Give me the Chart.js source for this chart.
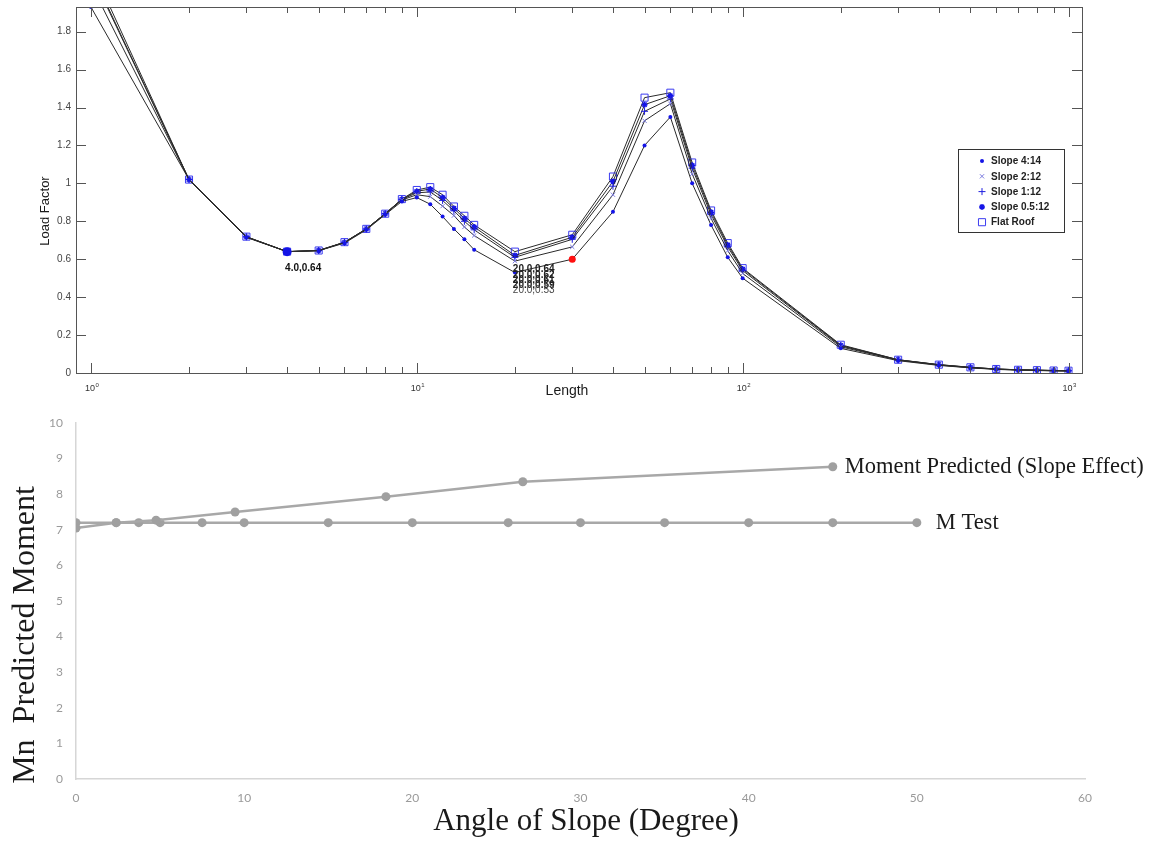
<!DOCTYPE html>
<html>
<head>
<meta charset="utf-8">
<script src="https://cdn.jsdelivr.net/npm/chart.js@4.4.1/dist/chart.umd.min.js"></script>
<style>
    html, body { margin: 0; padding: 0; background: #fff; }
    #top { position: absolute; left: 0; top: 0; width: 1151px; height: 402px; }
    #bottom { position: absolute; left: 0; top: 402px; width: 1151px; height: 439px; }
</style>
</head>
<body>
<div id="top"><canvas id="loadChart"></canvas></div>
<div id="bottom"><canvas id="momentChart"></canvas></div>
<script>
// top chart: load factor vs length (log x)
var lengths = [1, 2, 3, 4, 5, 6, 7, 8, 9, 10, 11, 12, 13, 14, 15, 20, 30, 40, 50, 60, 70, 80, 90, 100, 200, 300, 400, 500, 600, 700, 800, 900, 1000];
var slope4_14 = [1.93, 1.02, 0.715, 0.64, 0.645, 0.685, 0.755, 0.835, 0.905, 0.925, 0.89, 0.825, 0.76, 0.705, 0.65, 0.53, 0.60, 0.85, 1.20, 1.35, 1.00, 0.78, 0.61, 0.50, 0.13, 0.065, 0.04, 0.027, 0.019, 0.015, 0.013, 0.011, 0.010];
var slope2_12 = [2.05, 1.02, 0.717, 0.64, 0.645, 0.688, 0.758, 0.838, 0.912, 0.94, 0.93, 0.88, 0.83, 0.77, 0.725, 0.59, 0.665, 0.94, 1.33, 1.42, 1.05, 0.815, 0.645, 0.525, 0.138, 0.068, 0.042, 0.028, 0.020, 0.016, 0.014, 0.012, 0.011];
var slope1_12 = [2.11, 1.02, 0.718, 0.64, 0.646, 0.689, 0.759, 0.84, 0.915, 0.95, 0.955, 0.91, 0.855, 0.80, 0.755, 0.61, 0.705, 0.985, 1.38, 1.445, 1.08, 0.835, 0.665, 0.54, 0.143, 0.069, 0.043, 0.029, 0.021, 0.017, 0.015, 0.013, 0.012];
var slope05_12 = [2.12, 1.02, 0.718, 0.64, 0.646, 0.689, 0.76, 0.84, 0.916, 0.958, 0.97, 0.925, 0.868, 0.815, 0.77, 0.62, 0.716, 1.01, 1.415, 1.462, 1.095, 0.848, 0.675, 0.548, 0.146, 0.07, 0.044, 0.03, 0.021, 0.017, 0.015, 0.013, 0.012];
var flatRoof = [2.15, 1.02, 0.719, 0.64, 0.646, 0.69, 0.76, 0.84, 0.917, 0.965, 0.98, 0.94, 0.878, 0.829, 0.781, 0.64, 0.729, 1.036, 1.452, 1.478, 1.11, 0.857, 0.685, 0.553, 0.149, 0.07, 0.044, 0.03, 0.021, 0.017, 0.015, 0.013, 0.012];
var seriesNames = ['Slope 4:14', 'Slope 2:12', 'Slope 1:12', 'Slope 0.5:12', 'Flat Roof'];
var loadTicks = [0, 0.2, 0.4, 0.6, 0.8, 1, 1.2, 1.4, 1.6, 1.8];
var decades = [1, 10, 100, 1000];
var tipLength = 4;      // datatip on the first minimum
var stackTipLength = 20; // stacked datatips
var redTipLength = 30;

// bottom chart: moment vs slope angle
var predAngle = [0, 2.39, 4.76, 9.46, 18.43, 26.57, 45];
var predMoment = [7.05, 7.2, 7.27, 7.5, 7.93, 8.35, 8.77];
var testAngle = [0, 2.39, 3.73, 5, 7.5, 10, 15, 20, 25.7, 30, 35, 40, 45, 50];
var testMoment = [7.2, 7.2, 7.2, 7.2, 7.2, 7.2, 7.2, 7.2, 7.2, 7.2, 7.2, 7.2, 7.2, 7.2];
var angleTicks = [0, 10, 20, 30, 40, 50, 60];
var momentTicks = [0, 1, 2, 3, 4, 5, 6, 7, 8, 9, 10];
var endLabels = ['Moment Predicted (Slope Effect)', 'M Test'];

var drawPoint = (Chart.helpers && Chart.helpers.drawPoint) || function () {};

function pts(xs, ys) {
    return xs.map(function (x, i) { return { x: x, y: ys[i] }; });
}

function loadSeries(label, values, style) {
    return Object.assign({
        label: label,
        data: pts(lengths, values),
        borderColor: '#2a2a2a',
        borderWidth: 1,
        tension: 0,
        fill: false
    }, style);
}

var loadDecor = {
    id: 'loadDecor',
    afterDraw: function (chart) {
        var ctx = chart.ctx, a = chart.chartArea, xs = chart.scales.x, ys = chart.scales.y;
        ctx.save();
        ctx.strokeStyle = '#555';
        ctx.lineWidth = 1;
        ctx.strokeRect(Math.round(a.left) + 0.5, Math.round(a.top) + 0.5, Math.round(a.right - a.left), Math.round(a.bottom - a.top));

        // inward ticks, matlab style
        ctx.beginPath();
        loadTicks.forEach(function (v) {
            var py = Math.round(ys.getPixelForValue(v)) + 0.5;
            ctx.moveTo(a.left, py); ctx.lineTo(a.left + 10, py);
            ctx.moveTo(a.right, py); ctx.lineTo(a.right - 10, py);
        });
        for (var d = 0; d < 3; d++) {
            for (var m = 1; m <= 9; m++) {
                var v = m * Math.pow(10, d);
                var px = Math.round(xs.getPixelForValue(v)) + 0.5;
                var len = m == 1 ? 10 : 6;
                ctx.moveTo(px, a.bottom); ctx.lineTo(px, a.bottom - len);
                ctx.moveTo(px, a.top); ctx.lineTo(px, a.top + len);
            }
        }
        var p3 = Math.round(xs.getPixelForValue(1000)) + 0.5;
        ctx.moveTo(p3, a.bottom); ctx.lineTo(p3, a.bottom - 10);
        ctx.moveTo(p3, a.top); ctx.lineTo(p3, a.top + 10);
        ctx.stroke();

        // 10^n labels
        ctx.fillStyle = '#333';
        decades.forEach(function (v, i) {
            var px = xs.getPixelForValue(v);
            ctx.font = '9px "Liberation Sans"';
            ctx.textAlign = 'right';
            ctx.textBaseline = 'middle';
            ctx.fillText('10', px + 4, a.bottom + 16);
            ctx.font = '6px "Liberation Sans"';
            ctx.textAlign = 'left';
            ctx.fillText(String(i), px + 4.5, a.bottom + 12);
        });

        // axis titles
        ctx.fillStyle = '#1a1a1a';
        ctx.font = '14px "Liberation Sans"';
        ctx.textAlign = 'center';
        ctx.textBaseline = 'middle';
        ctx.fillText('Length', 567, 391);
        ctx.save();
        ctx.translate(45, 211);
        ctx.rotate(-Math.PI / 2);
        ctx.font = '13px "Liberation Sans"';
        ctx.fillText('Load Factor', 0, 0);
        ctx.restore();

        // datatips
        var sets = chart.data.datasets;
        var ti = lengths.indexOf(tipLength);
        var tv = sets[0].data[ti];
        ctx.font = 'bold 10px "Liberation Sans"';
        ctx.textAlign = 'left';
        ctx.fillStyle = '#111';
        ctx.fillText(tv.x.toFixed(1) + ',' + tv.y.toFixed(2), xs.getPixelForValue(tv.x) - 2, ys.getPixelForValue(tv.y) + 17);

        var si = lengths.indexOf(stackTipLength);
        var baseY = ys.getPixelForValue(sets[4].data[si].y) + 18;
        for (var k = 4; k >= 0; k--) {
            var sv = sets[k].data[si];
            ctx.font = (k > 0 ? 'bold ' : '') + '10px "Liberation Sans"';
            ctx.fillStyle = k > 0 ? '#222' : '#444';
            ctx.fillText(sv.x.toFixed(1) + ',' + sv.y.toFixed(2), xs.getPixelForValue(sv.x) - 2, baseY + (4 - k) * 5.2);
        }

        // legend box
        ctx.fillStyle = '#fff';
        ctx.fillRect(958, 149, 106, 83);
        ctx.strokeStyle = '#333';
        ctx.strokeRect(958.5, 149.5, 106, 83);
        ctx.font = 'bold 10px "Liberation Sans"';
        ctx.textAlign = 'left';
        ctx.textBaseline = 'middle';
        sets.forEach(function (ds, i) {
            var ly = 161 + i * 15.3;
            ctx.strokeStyle = ds.legendColor;
            ctx.fillStyle = ds.legendFill;
            ctx.lineWidth = ds.pointBorderWidth;
            drawPoint(ctx, { pointStyle: ds.pointStyle, radius: ds.legendRadius, borderWidth: ds.pointBorderWidth, rotation: 0 }, 982, ly);
            ctx.fillStyle = '#222';
            ctx.fillText(ds.label, 991, ly + 0.5);
        });
        ctx.restore();
    }
};

new Chart(document.getElementById('loadChart'), {
    type: 'line',
    data: {
        datasets: [
            loadSeries(seriesNames[0], slope4_14, {
                pointStyle: 'circle',
                pointRadius: lengths.map(function (l) { return l == tipLength ? 4.5 : (l == redTipLength ? 3.5 : 2); }),
                pointBackgroundColor: lengths.map(function (l) { return l == redTipLength ? '#ff1010' : '#1414e6'; }),
                pointBorderColor: lengths.map(function (l) { return l == redTipLength ? '#ff1010' : '#1414e6'; }),
                pointBorderWidth: 0,
                legendColor: '#1414e6', legendFill: '#1414e6', legendRadius: 2
            }),
            loadSeries(seriesNames[1], slope2_12, {
                pointStyle: 'crossRot', pointRadius: 3,
                pointBorderColor: '#7c7ce0', pointBackgroundColor: '#7c7ce0', pointBorderWidth: 1,
                legendColor: '#7c7ce0', legendFill: '#7c7ce0', legendRadius: 3
            }),
            loadSeries(seriesNames[2], slope1_12, {
                pointStyle: 'cross', pointRadius: 3.5,
                pointBorderColor: '#1e1ee0', pointBackgroundColor: '#1e1ee0', pointBorderWidth: 1,
                legendColor: '#1e1ee0', legendFill: '#1e1ee0', legendRadius: 3.5
            }),
            loadSeries(seriesNames[3], slope05_12, {
                pointStyle: 'star', pointRadius: 3,
                pointBorderColor: '#1414e6', pointBackgroundColor: '#1414e6', pointBorderWidth: 1.5,
                legendColor: '#1414e6', legendFill: '#1414e6', legendRadius: 3
            }),
            loadSeries(seriesNames[4], flatRoof, {
                pointStyle: 'rect', pointRadius: 5,
                pointBorderColor: '#3c3cf0', pointBackgroundColor: 'rgba(0,0,0,0)', pointBorderWidth: 1,
                legendColor: '#3c3cf0', legendFill: 'rgba(0,0,0,0)', legendRadius: 5
            })
        ]
    },
    options: {
        responsive: true,
        maintainAspectRatio: false,
        animation: false,
        events: [],
        layout: { padding: { top: 7, right: 69, left: 0, bottom: 0 } },
        plugins: { legend: { display: false }, tooltip: { enabled: false } },
        scales: {
            x: {
                type: 'logarithmic', min: 0.9, max: 1100,
                ticks: { display: false },
                grid: { display: false, drawTicks: false },
                border: { display: false },
                afterFit: function (s) { s.height = 29; }
            },
            y: {
                min: 0, max: 1.93,
                afterBuildTicks: function (s) { s.ticks = loadTicks.map(function (v) { return { value: v }; }); },
                ticks: {
                    padding: 5,
                    color: '#444',
                    font: { family: 'Liberation Sans', size: 10 },
                    callback: function (v) { return String(+v.toFixed(1)); }
                },
                grid: { display: false, drawTicks: false },
                border: { display: false },
                afterFit: function (s) { s.width = 76; s.paddingTop = 0; s.paddingBottom = 0; }
            }
        }
    },
    plugins: [loadDecor]
});

var momentDecor = {
    id: 'momentDecor',
    afterDraw: function (chart) {
        var ctx = chart.ctx;
        ctx.save();
        ctx.fillStyle = '#1a1a1a';
        ctx.textAlign = 'left';
        ctx.textBaseline = 'middle';
        ctx.font = '22.5px "Liberation Serif"';
        var offs = [12, 19];
        chart.data.datasets.forEach(function (ds, i) {
            var meta = chart.getDatasetMeta(i);
            var last = meta.data[meta.data.length - 1];
            ctx.fillText(endLabels[i], last.x + offs[i], last.y);
        });

        ctx.textAlign = 'center';
        ctx.font = '31px "Liberation Serif"';
        ctx.fillText('Angle of Slope (Degree)', 586, 420);

        ctx.save();
        ctx.translate(34, 233);
        ctx.rotate(-Math.PI / 2);
        ctx.textBaseline = 'alphabetic';
        ctx.font = '32px "Liberation Serif"';
        ctx.fillText('Mn  Predicted Moment', 0, 0);
        ctx.restore();
        ctx.restore();
    }
};

function momentSeries(label, xs, ys) {
    return {
        label: label,
        data: pts(xs, ys),
        borderColor: '#a8a8a8',
        borderWidth: 2.5,
        pointRadius: 4.5,
        pointBackgroundColor: '#a0a0a0',
        pointBorderWidth: 0,
        tension: 0,
        fill: false
    };
}

new Chart(document.getElementById('momentChart'), {
    type: 'line',
    data: {
        datasets: [
            momentSeries(endLabels[0], predAngle, predMoment),
            momentSeries(endLabels[1], testAngle, testMoment)
        ]
    },
    options: {
        responsive: true,
        maintainAspectRatio: false,
        animation: false,
        events: [],
        layout: { padding: { top: 21, right: 66, left: 0, bottom: 0 } },
        plugins: { legend: { display: false }, tooltip: { enabled: false } },
        scales: {
            x: {
                type: 'linear', min: 0, max: 60,
                afterBuildTicks: function (s) { s.ticks = angleTicks.map(function (v) { return { value: v }; }); },
                ticks: { padding: 12, color: '#9a9a9a', font: { family: 'Lato', size: 12 } },
                grid: { display: false, drawTicks: false },
                border: { display: true, color: '#d6d6d6', width: 1.5 },
                afterFit: function (s) { s.height = 62; }
            },
            y: {
                min: 0, max: 10,
                afterBuildTicks: function (s) { s.ticks = momentTicks.map(function (v) { return { value: v }; }); },
                ticks: { padding: 13, color: '#9a9a9a', font: { family: 'Lato', size: 12 } },
                grid: { display: false, drawTicks: false },
                border: { display: true, color: '#d6d6d6', width: 1.5 },
                afterFit: function (s) { s.width = 76; }
            }
        }
    },
    plugins: [momentDecor]
});
</script>
</body>
</html>
